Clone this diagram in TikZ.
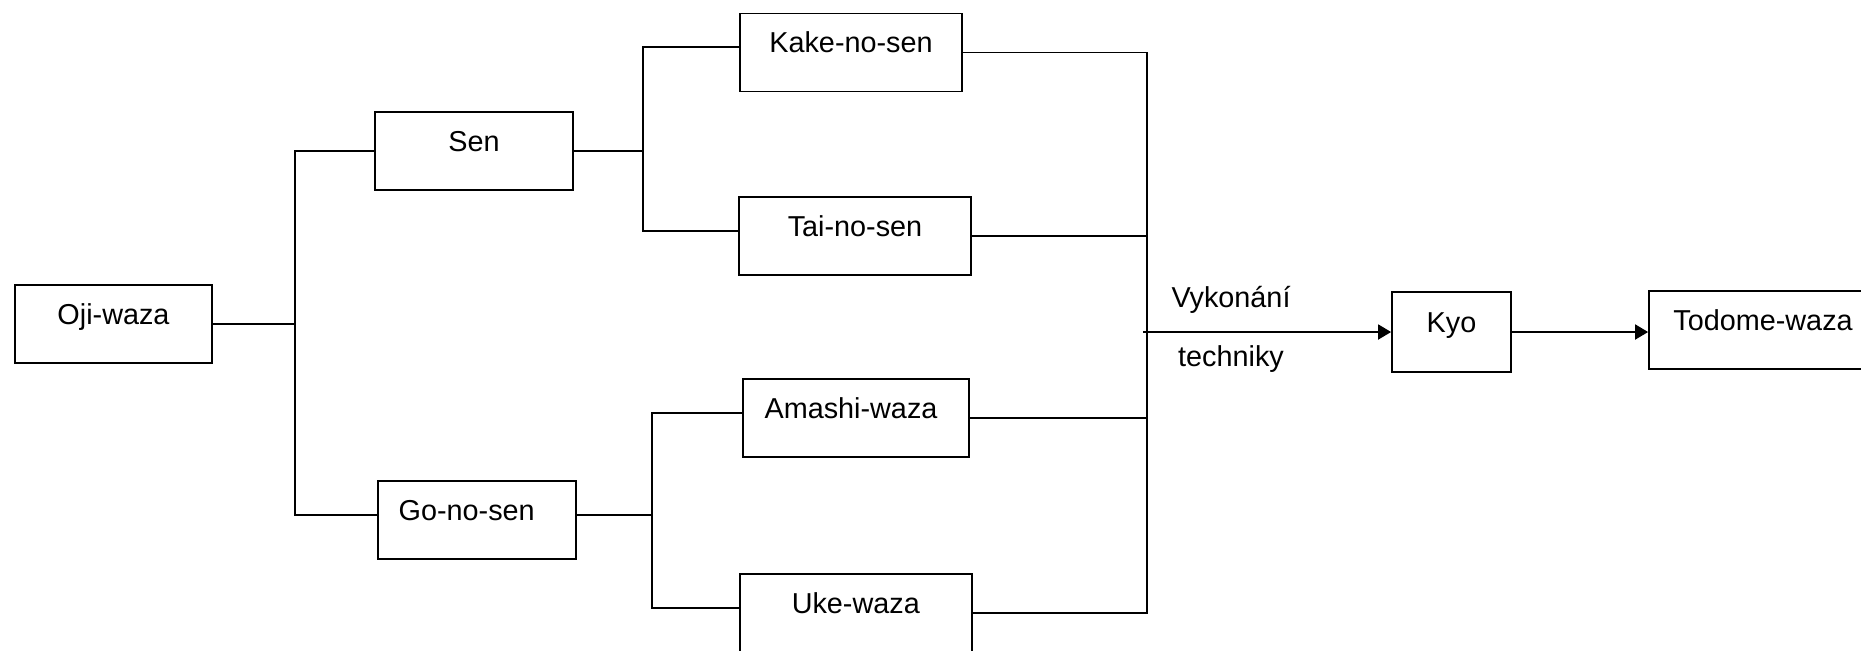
\documentclass[tikz,border=0pt]{standalone}
\usepackage{fontspec}
\setmainfont{Liberation Sans}
\usetikzlibrary{arrows.meta}
\tikzset{
    box/.style={draw, line width=0.9pt, rectangle, inner sep=0pt, minimum height=39pt,
        text height=10pt, text depth=10pt, font=\fontsize{14.4}{17}\selectfont},
    lbl/.style={inner sep=0pt, text height=10pt, text depth=10pt, font=\fontsize{14.4}{17}\selectfont},
    link/.style={line width=0.9pt}
}
\begin{document}
\begin{tikzpicture}[x=0.5pt, y=-0.5pt, >={Triangle[length=6.5pt, width=7.5pt]}]
            \useasboundingbox (0, 0) rectangle (1861, 650);
            \node [box, minimum width=98.8pt] (oji) at (113.5, 324) {Oji-waza};
            \node [box, minimum width=98.8pt] (sen) at (474, 151) {Sen};
            \node [box, minimum width=99pt] (go) at (476.7, 520) {Go-no-sen\kern10pt};
            \node [box, minimum width=111pt] (kake) at (851, 52.5) {Kake-no-sen};
            \node [box, minimum width=116pt] (tai) at (855, 236) {Tai-no-sen};
            \node [box, minimum width=113pt] (amashi) at (856, 418) {Amashi-waza\kern5pt};
            \node [box, minimum width=115.8pt] (uke) at (855.8, 613) {Uke-waza};
            \node [box, minimum width=59.5pt, minimum height=40pt] (kyo) at (1451.5, 332) {Kyo};
            \node [box, minimum width=114pt] (todome) at (1763, 330) {Todome-waza};
            \node [lbl] (vyk) at (1231, 307) {Vykonání};
            \node [lbl] (tech) at (1231, 366) {techniky};
            \coordinate (j1) at (295, 0);
            \coordinate (j2) at (643, 0);
            \coordinate (j3) at (652, 0);
            \coordinate (j4) at (1147, 0);
            \coordinate (v) at (1143, 0);
            \draw [link] (oji.east) -- (oji.east -| j1);
            \draw [link] (sen.west) -- (sen.west -| j1) -- (go.mid west -| j1) -- (go.mid west);
            \draw [link] (sen.east) -- (sen.east -| j2);
            \draw [link] (kake.mid west) -- (kake.mid west -| j2) -- (tai.mid west -| j2) -- (tai.mid west);
            \draw [link] (go.mid east) -- (go.mid east -| j3);
            \draw [link] (amashi.mid west) -- (amashi.mid west -| j3) -- (uke.mid west -| j3) -- (uke.mid west);
            \draw [link] (kake.east) -- (kake.east -| j4) -- (uke.east -| j4) -- (uke.east);
            \draw [link] (tai.east) -- (tai.east -| j4);
            \draw [link] (amashi.east) -- (amashi.east -| j4);
            \draw [link, ->] (kyo.west -| v) -- (kyo.west);
            \draw [link, ->] (kyo.east) -- (kyo.east -| todome.west);
        \end{tikzpicture}
\end{document}
